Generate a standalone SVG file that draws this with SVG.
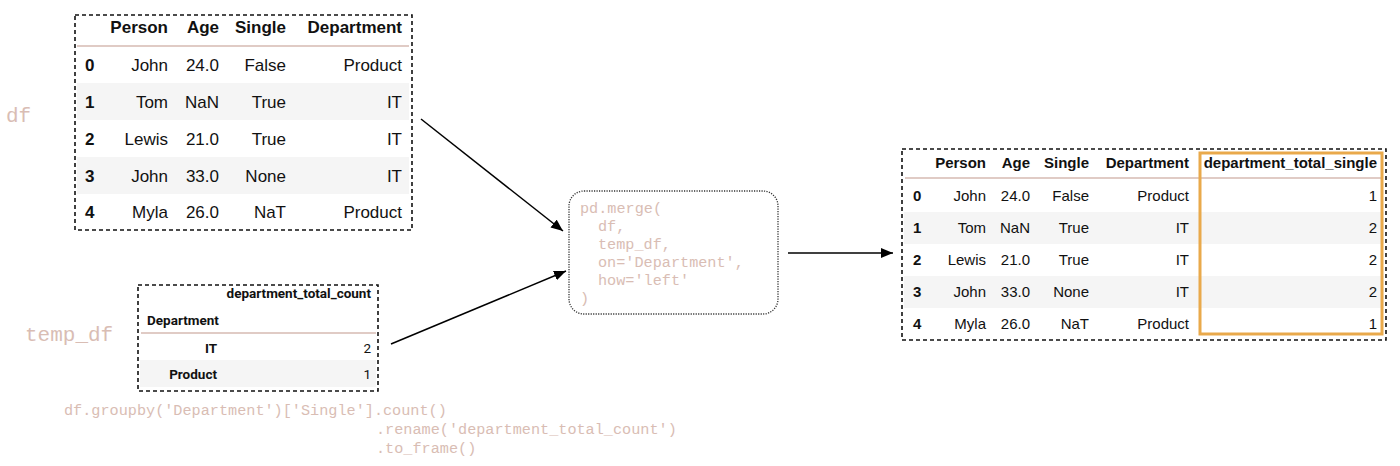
<svg xmlns="http://www.w3.org/2000/svg" width="1400" height="466" viewBox="0 0 1400 466">
<defs>
<marker id="arr" viewBox="0 0 12 10" refX="12" refY="5" markerWidth="12" markerHeight="10" markerUnits="userSpaceOnUse" orient="auto">
<path d="M0,0 L12,5 L0,10 z" fill="#000"/>
</marker>
<style>
.frame{fill:none;stroke:#111;stroke-width:1.6;stroke-dasharray:4 3}
.stripe{fill:#f5f5f5}
.sep{stroke:#d6bab2;stroke-width:1.5}
.t1{font-family:"Liberation Sans",Arial,sans-serif;font-size:17px;fill:#111}
.t3{font-family:"Liberation Sans",Arial,sans-serif;font-size:15px;fill:#111}
.t2{font-family:Roboto,"Liberation Sans",sans-serif;font-size:13.5px;fill:#111}
.b{font-weight:bold}
.r{text-anchor:end}
.code{font-family:"Liberation Mono","Courier New",monospace;font-size:15.2px;fill:#d9bdb4}
.lbl{font-family:"Liberation Mono","Courier New",monospace;font-size:21px;fill:#d9bdb4}
.conn{stroke:#000;stroke-width:1.5;fill:none;marker-end:url(#arr)}
</style>
</defs>
<rect width="1400" height="466" fill="#fff"/>

<g id="df-label"><text class="lbl" x="6" y="122">df</text></g>

<g id="df">
<rect class="stripe" x="77" y="83" width="332" height="37"/>
<rect class="stripe" x="77" y="157" width="332" height="37"/>
<line class="sep" x1="77" y1="46" x2="409" y2="46"/>
<rect class="frame" x="75" y="15" width="337" height="215"/>
<g class="t1 b r">
<text x="168" y="33">Person</text><text x="219" y="33">Age</text><text x="286" y="33">Single</text><text x="402" y="33">Department</text>
</g>
<g class="t1 b">
<text x="85" y="71">0</text><text x="85" y="108">1</text><text x="85" y="145">2</text><text x="85" y="182">3</text><text x="85" y="218">4</text>
</g>
<g class="t1 r">
<text x="168" y="71">John</text><text x="219" y="71">24.0</text><text x="286" y="71">False</text><text x="402" y="71">Product</text>
<text x="168" y="108">Tom</text><text x="219" y="108">NaN</text><text x="286" y="108">True</text><text x="402" y="108">IT</text>
<text x="168" y="145">Lewis</text><text x="219" y="145">21.0</text><text x="286" y="145">True</text><text x="402" y="145">IT</text>
<text x="168" y="182">John</text><text x="219" y="182">33.0</text><text x="286" y="182">None</text><text x="402" y="182">IT</text>
<text x="168" y="218">Myla</text><text x="219" y="218">26.0</text><text x="286" y="218">NaT</text><text x="402" y="218">Product</text>
</g>
</g>

<g id="temp_df-label"><text class="lbl" x="25" y="341">temp_df</text></g>

<g id="temp_df">
<rect class="stripe" x="140" y="360" width="236" height="27"/>
<line class="sep" x1="141" y1="333" x2="376" y2="333"/>
<rect class="frame" x="138" y="285" width="240" height="106"/>
<text class="t2 b r" x="371" y="298">department_total_count</text>
<text class="t2 b" x="147" y="325">Department</text>
<text class="t2 b r" x="217" y="353">IT</text>
<text class="t2 r" x="371" y="353">2</text>
<text class="t2 b r" x="217" y="379">Product</text>
<text class="t2 r" x="371" y="379">1</text>
</g>

<g id="groupby-code">
<text class="code" x="64" y="415">df.groupby('Department')['Single'].count()</text>
<text class="code" x="376" y="434">.rename('department_total_count')</text>
<text class="code" x="376" y="453">.to_frame()</text>
</g>

<g id="merge">
<rect x="569" y="191" width="209" height="123" rx="15" ry="15" fill="none" stroke="#333" stroke-width="1.3" stroke-dasharray="1.2 1.3"/>
<text class="code" x="580" y="213">pd.merge(</text>
<text class="code" x="598" y="231">df,</text>
<text class="code" x="598" y="249">temp_df,</text>
<text class="code" x="598" y="267">on='Department',</text>
<text class="code" x="598" y="285">how='left'</text>
<text class="code" x="580" y="303">)</text>
</g>

<g id="result">
<rect class="stripe" x="904" y="212" width="480" height="32"/>
<rect class="stripe" x="904" y="276" width="480" height="32"/>
<line class="sep" x1="905" y1="178" x2="1383" y2="178"/>
<rect class="frame" x="902" y="149" width="484" height="191"/>
<g class="t3 b r">
<text x="986" y="168">Person</text><text x="1030" y="168">Age</text><text x="1089" y="168">Single</text><text x="1189" y="168">Department</text><text x="1377" y="168">department_total_single</text>
</g>
<g class="t3 b">
<text x="913" y="201">0</text><text x="913" y="233">1</text><text x="913" y="265">2</text><text x="913" y="297">3</text><text x="913" y="329">4</text>
</g>
<g class="t3 r">
<text x="986" y="201">John</text><text x="1030" y="201">24.0</text><text x="1089" y="201">False</text><text x="1189" y="201">Product</text><text x="1377" y="201">1</text>
<text x="986" y="233">Tom</text><text x="1030" y="233">NaN</text><text x="1089" y="233">True</text><text x="1189" y="233">IT</text><text x="1377" y="233">2</text>
<text x="986" y="265">Lewis</text><text x="1030" y="265">21.0</text><text x="1089" y="265">True</text><text x="1189" y="265">IT</text><text x="1377" y="265">2</text>
<text x="986" y="297">John</text><text x="1030" y="297">33.0</text><text x="1089" y="297">None</text><text x="1189" y="297">IT</text><text x="1377" y="297">2</text>
<text x="986" y="329">Myla</text><text x="1030" y="329">26.0</text><text x="1089" y="329">NaT</text><text x="1189" y="329">Product</text><text x="1377" y="329">1</text>
</g>
<rect x="1200" y="153" width="182" height="181" fill="none" stroke="#e9a94b" stroke-width="3"/>
</g>

<g id="connectors">
<line class="conn" x1="421" y1="119" x2="563" y2="231"/>
<line class="conn" x1="391" y1="344" x2="566" y2="271"/>
<line class="conn" x1="788" y1="253" x2="893" y2="253"/>
</g>
</svg>
